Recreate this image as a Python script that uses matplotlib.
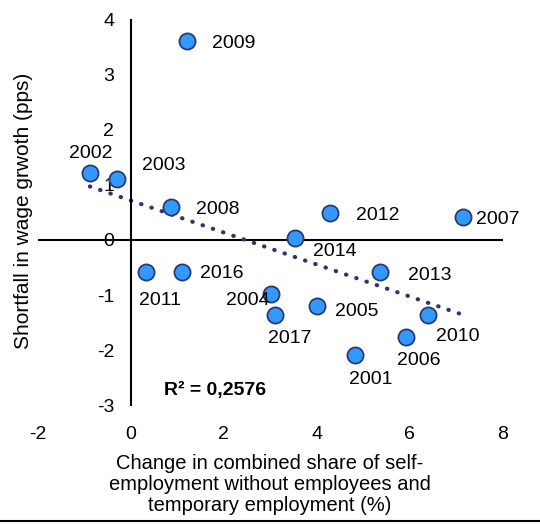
import numpy as np
import matplotlib.pyplot as plt
from matplotlib.lines import Line2D

plt.rcParams['font.family'] = ['Liberation Sans', 'DejaVu Sans']
plt.rcParams['axes.unicode_minus'] = False

years = ['2009', '2002', '2003', '2008', '2012', '2007', '2014', '2011',
         '2016', '2013', '2004', '2017', '2005', '2010', '2006', '2001']
x_vals = [1.20, -0.88, -0.30, 0.86, 4.28, 7.14, 3.53, 0.32,
          1.10, 5.35, 3.01, 3.10, 4.00, 6.39, 5.93, 4.83]
y_vals = [3.62, 1.22, 1.11, 0.60, 0.49, 0.42, 0.03, -0.58,
          -0.58, -0.58, -0.98, -1.37, -1.20, -1.37, -1.76, -2.09]
# label offsets in pixels (dx to left edge, dy to centre)
offsets = {'2009': (25, -3), '2002': (-21, 19), '2003': (25, 13), '2008': (25, -3),
           '2012': (26, -2), '2007': (13, -3), '2014': (18, -13), '2011': (-7, -29),
           '2016': (18, -2), '2013': (28, -4), '2004': (-45, -7), '2017': (-7, -23),
           '2005': (18, -5), '2010': (8, -21), '2006': (-9, -24), '2001': (-6, -25)}

fig = plt.figure(figsize=(5.4, 5.24), dpi=100)
ax = fig.add_axes([0.070, 0.227, 0.861, 0.735])

x = np.array(x_vals)
y = np.array(y_vals)
k, b = np.polyfit(x, y, 1)
xs = np.array([x.min(), x.max()])
ax.plot(xs, k * xs + b, color='#2E3568', lw=3, ls=(0, (0.1, 2.5)),
        dash_capstyle='round', zorder=2)

ax.scatter(x, y, s=135, color='#3399FF', edgecolor='#2B3A6E', linewidth=1.3, zorder=3)

for yr, xv, yv in zip(years, x_vals, y_vals):
    dx, dy = offsets[yr]
    ax.annotate(yr, (xv, yv), xytext=(dx, dy), textcoords='offset pixels',
                ha='left', va='center', fontsize=14)

ax.text(0.71, -2.73, 'R² = 0,2576', fontsize=14, fontweight='bold', va='center')

ax.set_xlim(-2, 8)
ax.set_ylim(-3, 4)
ax.set_xticks([-2, 0, 2, 4, 6, 8])
ax.set_yticks([-3, -2, -1, 0, 1, 2, 3, 4])
ax.tick_params(length=0, labelsize=14, pad=12)
ax.tick_params(axis='x', pad=15)
for s in ['top', 'right', 'bottom']:
    ax.spines[s].set_visible(False)
ax.spines['left'].set_position(('data', 0))
ax.spines['left'].set_linewidth(1.5)
ax.axhline(0, color='black', lw=1.5, zorder=1)

fig.text(0.043, 0.597, 'Shortfall in wage grwoth (pps)', rotation=90,
         ha='center', va='center', fontsize=15)
fig.text(0.5, 0.075, 'Change in combined share of self-\nemployment without employees and\ntemporary employment (%)',
         ha='center', va='center', fontsize=14.5, linespacing=1.13)

fig.add_artist(Line2D([0, 1], [0.006, 0.006], color='black', lw=1.5, transform=fig.transFigure))

fig.savefig('out.png', dpi=100)
